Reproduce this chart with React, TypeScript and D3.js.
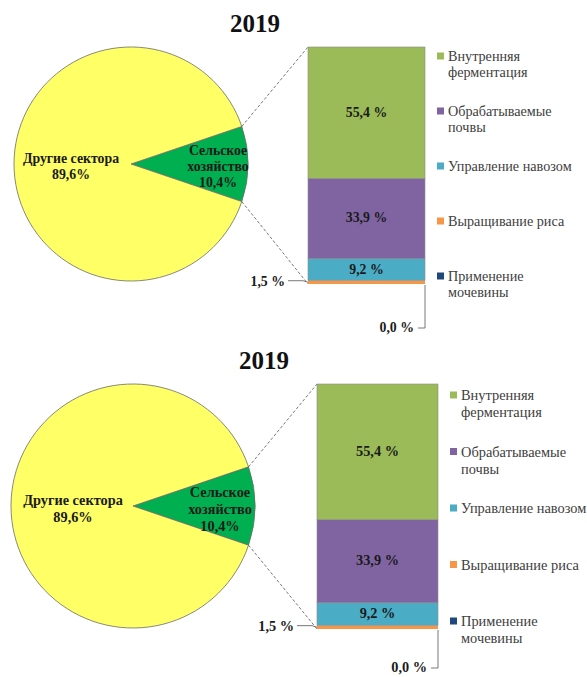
import React from 'react';
import * as d3 from 'd3';

// pie: share of agriculture in total emissions
const pieLabels = ['Сельское хозяйство', 'Другие сектора'];
const pieValues = [10.4, 89.6];
const pieColors = ['#00b050', '#ffff66'];

// bar: structure of agricultural emissions (bottom to top)
const barCategories = ['Применение мочевины', 'Выращивание риса', 'Управление навозом', 'Обрабатываемые почвы', 'Внутренняя ферментация'];
const barValues = [0.0, 1.5, 9.2, 33.9, 55.4];
const barColors = ['#1f497d', '#f79646', '#4bacc6', '#8064a2', '#9bbb59'];

// legend order (top to bottom), with line breaks
const legendLines = [
  ['Внутренняя', 'ферментация'],
  ['Обрабатываемые', 'почвы'],
  ['Управление навозом'],
  ['Выращивание риса'],
  ['Применение', 'мочевины'],
];
const legendColors = ['#9bbb59', '#8064a2', '#4bacc6', '#f79646', '#1f497d'];

const title = '2019';

interface PanelProps {
  titleX: number; titleY: number;
  cx: number; cy: number; r: number;
  barX: number; barW: number; barTop: number; barBot: number;
  legX: number; legTop: number; legBot: number;
  fs: number; legFs: number; lh: number; zeroDy: number;
}

const serif = "'Liberation Serif', Tinos, 'Times New Roman', 'DejaVu Serif', serif";
const fmt = (v: number) => d3.format('.1f')(v).replace('.', ',');

function Panel(p: PanelProps) {
  const agri = pieValues[0] / d3.sum(pieValues);
  const start = Math.PI / 2 - agri * Math.PI;
  const pie = d3.pie<number>().sort(null).startAngle(start).endAngle(start + 2 * Math.PI);
  const arcs = pie(pieValues);
  const arc = d3.arc<d3.PieArcDatum<number>>().innerRadius(0).outerRadius(p.r);

  const pt = (a: number) => [p.cx + p.r * Math.sin(a), p.cy - p.r * Math.cos(a)];
  const [ax0, ay0] = pt(arcs[0].startAngle);
  const [ax1, ay1] = pt(arcs[0].endAngle);

  const y = d3.scaleLinear().domain([0, d3.sum(barValues)]).range([p.barBot, p.barTop]);
  const rows = [Object.fromEntries(barCategories.map((c, i) => [c, barValues[i]]))];
  const series = d3.stack<any>().keys(barCategories)(rows);

  const legY = d3.scalePoint<number>().domain(legendLines.map((_, i) => i)).range([p.legTop, p.legBot]);

  const riceIdx = 1;
  const ureaIdx = 0;
  const riceMid = (y(series[riceIdx][0][0]) + y(series[riceIdx][0][1])) / 2;
  const ureaY = y(series[ureaIdx][0][1]);
  const lh = p.lh;
  const ts = { fontFamily: serif };

  return (
    <g style={ts}>
      <text x={p.titleX} y={p.titleY} textAnchor="middle" fontSize={25} fontWeight="bold" fill="#111" style={ts}>{title}</text>

      {arcs.map((a, i) => (
        <path key={i} d={arc(a) || ''} transform={`translate(${p.cx},${p.cy})`}
          fill={pieColors[i]} stroke="#6b6b6b" strokeWidth={0.8} />
      ))}

      {/* pie labels */}
      <text x={p.cx - 60} y={p.cy - 1} textAnchor="middle" fontSize={p.fs} fontWeight="bold" fill="#1a1a1a" style={ts}>
        <tspan x={p.cx - 60} dy={0}>{pieLabels[1]}</tspan>
        <tspan x={p.cx - 60} dy={lh}>{fmt(pieValues[1])}%</tspan>
      </text>
      <text x={p.cx + 87} y={p.cy - 9} textAnchor="middle" fontSize={p.fs} fontWeight="bold" fill="#1a1a1a" style={ts}>
        <tspan x={p.cx + 87} dy={0}>Сельское</tspan>
        <tspan x={p.cx + 87} dy={lh}>хозяйство</tspan>
        <tspan x={p.cx + 87} dy={lh}>{fmt(pieValues[0])}%</tspan>
      </text>

      {/* connector lines */}
      <line x1={ax0} y1={ay0} x2={p.barX} y2={p.barTop} stroke="#555" strokeWidth={0.8} strokeDasharray="3,2" />
      <line x1={ax1} y1={ay1} x2={p.barX} y2={p.barBot} stroke="#555" strokeWidth={0.8} strokeDasharray="3,2" />

      {/* stacked bar */}
      {series.map((s, i) => (
        <rect key={i} x={p.barX} width={p.barW}
          y={y(s[0][1])} height={Math.max(0, y(s[0][0]) - y(s[0][1]))}
          fill={barColors[i]} stroke={i >= 2 ? '#8c8c8c' : 'none'} strokeWidth={0.6} />
      ))}
      {series.map((s, i) => i >= 2 ? (
        <text key={i} x={p.barX + p.barW / 2} y={(y(s[0][0]) + y(s[0][1])) / 2 + 4}
          textAnchor="middle" fontSize={p.fs} fontWeight="bold" fill="#1a1a1a" style={ts}>{fmt(barValues[i])} %</text>
      ) : null)}

      {/* small-value labels */}
      <text x={p.barX - 23} y={riceMid + 4} textAnchor="end" fontSize={p.fs} fontWeight="bold" fill="#1a1a1a" style={ts}>{fmt(barValues[riceIdx])} %</text>
      <polyline points={`${p.barX - 20},${riceMid - 1.5} ${p.barX - 5},${riceMid - 1.5} ${p.barX},${riceMid}`} fill="none" stroke="#555" strokeWidth={0.8} />
      <text x={p.barX + p.barW - 11} y={ureaY + p.zeroDy + 4} textAnchor="end" fontSize={p.fs} fontWeight="bold" fill="#1a1a1a" style={ts}>{fmt(barValues[ureaIdx])} %</text>
      <polyline points={`${p.barX + p.barW},${ureaY + 1} ${p.barX + p.barW},${ureaY + p.zeroDy} ${p.barX + p.barW - 7},${ureaY + p.zeroDy}`} fill="none" stroke="#555" strokeWidth={0.8} />

      {/* legend */}
      {legendLines.map((lines, i) => (
        <g key={i}>
          <rect x={p.legX} y={legY(i)! - 3.5} width={7} height={7} fill={legendColors[i]} />
          <text x={p.legX + 11} y={legY(i)! + 5} fontSize={p.legFs} fill="#404040" style={ts}>
            {lines.map((l, j) => (
              <tspan key={j} x={p.legX + 11} dy={j === 0 ? 0 : lh}>{l}</tspan>
            ))}
          </text>
        </g>
      ))}
    </g>
  );
}

export default function App() {
  return (
    <svg width={587} height={677} style={{ position: 'absolute', left: 0, top: 0, background: '#fff' }}>
      <rect width={587} height={677} fill="#fff" />
      <Panel titleX={255} titleY={32} cx={131} cy={164} r={117}
        barX={308} barW={117} barTop={47} barBot={284}
        legX={437} legTop={56} legBot={276} fs={13.8} legFs={14.2} lh={16} zeroDy={44} />
      <Panel titleX={264} titleY={369} cx={133} cy={506} r={122}
        barX={317} barW={121} barTop={384} barBot={629}
        legX={450} legTop={395} legBot={621} fs={14.3} legFs={14.4} lh={17} zeroDy={39} />
    </svg>
  );
}
